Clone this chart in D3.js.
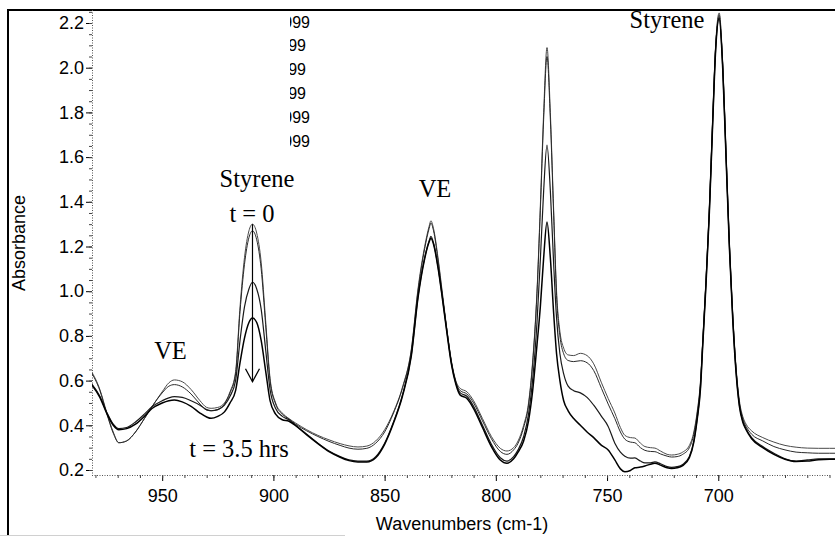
<!DOCTYPE html>
<html>
<head>
<meta charset="utf-8">
<script src="https://cdn.jsdelivr.net/npm/d3@7"></script>
<style>
  html, body { margin: 0; padding: 0; background: #fff; }
  svg { display: block; }
  .sans { font-family: "Liberation Sans", Arial, sans-serif; }
  .serif { font-family: "Liberation Serif", "Times New Roman", serif; }
</style>
</head>
<body>
<svg id="chart" width="835" height="537"></svg>
<script>
// Wavenumber grid (cm-1), shared by all spectra
const wavenumbers = [
  982, 978, 975, 972, 969.5, 966, 962, 958, 954.6, 950, 947, 944.5, 941, 937, 933, 930, 928, 925,
  922, 919.5, 917, 915, 913, 911, 909.4, 907.5, 905.5, 903.5, 901.5, 899, 896, 893,
  890, 885, 880, 875, 870, 866, 862, 858, 854, 850, 846, 842, 838, 835, 832, 830, 829.2, 828, 826, 824, 822, 820, 818, 816, 813, 810, 806, 802, 798, 795,
  792, 790, 787.5, 785.3, 783.5, 781.5, 780, 778.5, 777, 775.5, 774, 772.7, 771.2, 769.5, 767.5, 765, 762, 759, 756, 752.5, 749.5, 746.5, 744, 742, 739.5, 737.5, 735, 733, 730.5, 728.5, 726, 723, 721, 718.5, 716, 713, 711, 709.5, 708, 707, 705.5, 704, 702.5, 701.2, 699.6, 698, 696.5, 695, 693.5, 692, 690.5, 689, 687.5, 685, 680, 675, 670, 665, 660, 655, 650, 647
];

// Absorbance spectra during cure, t = 0 through t = 3.5 hrs
const absorbanceT0 = [
  0.645, 0.56, 0.46, 0.37, 0.322, 0.33, 0.37, 0.43, 0.483, 0.55, 0.59, 0.603, 0.595, 0.56, 0.51, 0.48, 0.476, 0.48,
  0.50, 0.55, 0.64, 0.93, 1.15, 1.27, 1.30, 1.26, 1.13, 0.87, 0.61, 0.50, 0.455, 0.43,
  0.41, 0.38, 0.355, 0.335, 0.318, 0.308, 0.303, 0.307, 0.33, 0.38, 0.46, 0.57, 0.74, 1.01, 1.20, 1.29, 1.315, 1.28, 1.15, 0.99, 0.83, 0.69, 0.60, 0.565, 0.55, 0.51, 0.43, 0.35, 0.297, 0.285,
  0.30, 0.33, 0.40, 0.50, 0.68, 1.00, 1.38, 1.80, 2.09, 1.80, 1.36, 1.00, 0.82, 0.745, 0.715, 0.712, 0.722, 0.712, 0.675, 0.59, 0.52, 0.455, 0.39, 0.355, 0.345, 0.343, 0.32, 0.305, 0.30, 0.298, 0.285, 0.27, 0.267, 0.27, 0.28, 0.31, 0.37, 0.46, 0.60, 0.78, 1.06, 1.38, 1.78, 2.10, 2.245, 2.02, 1.62, 1.22, 0.90, 0.66, 0.51, 0.44, 0.405, 0.375, 0.345, 0.325, 0.31, 0.302, 0.298, 0.297, 0.297, 0.297
];
const absorbanceT1 = [
  0.64, 0.555, 0.455, 0.365, 0.322, 0.33, 0.37, 0.43, 0.483, 0.545, 0.575, 0.582, 0.572, 0.54, 0.495, 0.468, 0.465, 0.47,
  0.495, 0.545, 0.63, 0.91, 1.12, 1.24, 1.27, 1.23, 1.10, 0.85, 0.60, 0.495, 0.45, 0.428,
  0.405, 0.375, 0.35, 0.328, 0.31, 0.298, 0.293, 0.297, 0.32, 0.37, 0.455, 0.565, 0.735, 1.0, 1.19, 1.28, 1.305, 1.27, 1.14, 0.98, 0.825, 0.685, 0.595, 0.555, 0.54, 0.50, 0.42, 0.34, 0.283, 0.27,
  0.29, 0.32, 0.39, 0.49, 0.67, 0.99, 1.36, 1.77, 2.05, 1.77, 1.34, 0.98, 0.80, 0.72, 0.69, 0.685, 0.689, 0.68, 0.645, 0.565, 0.495, 0.43, 0.37, 0.338, 0.325, 0.322, 0.30, 0.288, 0.283, 0.282, 0.272, 0.262, 0.258, 0.26, 0.27, 0.30, 0.36, 0.45, 0.59, 0.77, 1.05, 1.37, 1.77, 2.09, 2.235, 2.01, 1.61, 1.21, 0.89, 0.65, 0.50, 0.43, 0.395, 0.36, 0.33, 0.305, 0.29, 0.28, 0.277, 0.275, 0.275, 0.275
];
const absorbanceT2 = [
  0.59, 0.53, 0.46, 0.405, 0.385, 0.39, 0.415, 0.45, 0.483, 0.51, 0.523, 0.528, 0.525, 0.51, 0.49, 0.47, 0.465, 0.47,
  0.49, 0.53, 0.60, 0.78, 0.93, 1.01, 1.04, 1.01, 0.92, 0.74, 0.56, 0.475, 0.44, 0.425,
  0.40, 0.36, 0.32, 0.285, 0.26, 0.245, 0.24, 0.24, 0.26, 0.32, 0.415, 0.535, 0.715, 0.975, 1.15, 1.225, 1.245, 1.215, 1.11, 0.97, 0.82, 0.68, 0.59, 0.545, 0.53, 0.485, 0.40, 0.315, 0.255, 0.24,
  0.26, 0.29, 0.35, 0.45, 0.60, 0.86, 1.14, 1.45, 1.654, 1.45, 1.12, 0.88, 0.72, 0.63, 0.575, 0.555, 0.545, 0.525, 0.49, 0.44, 0.395, 0.32, 0.28, 0.262, 0.253, 0.254, 0.24, 0.232, 0.232, 0.236, 0.228, 0.215, 0.212, 0.215, 0.225, 0.26, 0.33, 0.43, 0.57, 0.76, 1.04, 1.36, 1.76, 2.08, 2.225, 2.0, 1.60, 1.20, 0.88, 0.64, 0.49, 0.42, 0.385, 0.345, 0.305, 0.275, 0.25, 0.24, 0.245, 0.25, 0.25, 0.25
];
const absorbanceT35 = [
  0.585, 0.525, 0.455, 0.40, 0.38, 0.385, 0.405, 0.44, 0.475, 0.50, 0.51, 0.513, 0.505, 0.485, 0.455, 0.437, 0.431, 0.44,
  0.46, 0.50, 0.555, 0.68, 0.79, 0.86, 0.88, 0.86, 0.78, 0.645, 0.51, 0.45, 0.425, 0.418,
  0.398, 0.357, 0.318, 0.282, 0.257, 0.242, 0.236, 0.236, 0.255, 0.315, 0.41, 0.53, 0.71, 0.97, 1.145, 1.22, 1.237, 1.21, 1.105, 0.965, 0.815, 0.675, 0.585, 0.535, 0.52, 0.475, 0.39, 0.305, 0.245, 0.23,
  0.25, 0.28, 0.33, 0.42, 0.55, 0.76, 0.93, 1.15, 1.31, 1.15, 0.90, 0.72, 0.60, 0.51, 0.465, 0.43, 0.40, 0.37, 0.345, 0.31, 0.29, 0.245, 0.205, 0.192, 0.198, 0.21, 0.213, 0.218, 0.226, 0.23, 0.222, 0.21, 0.207, 0.21, 0.22, 0.255, 0.325, 0.425, 0.565, 0.755, 1.035, 1.355, 1.755, 2.075, 2.22, 1.995, 1.595, 1.195, 0.875, 0.635, 0.485, 0.415, 0.38, 0.34, 0.30, 0.27, 0.248, 0.238, 0.24, 0.246, 0.248, 0.248
];

const yTickValues = [0.2, 0.4, 0.6, 0.8, 1.0, 1.2, 1.4, 1.6, 1.8, 2.0, 2.2];
const xTickValues = [950, 900, 850, 800, 750, 700];
const legendLabels = ["1999", "1999", "1999", "1999", "1999", "1999"];

// ---- layout ----
const svg = d3.select("#chart");
const plotLeft = 92, plotRight = 835, plotTop = 10, plotBottom = 475;

const x = d3.scaleLinear().domain([982, 650]).range([91, 829.5]);
const y = d3.scaleLinear().domain([0.2, 2.2]).range([470, 23]);

// outer frame
svg.append("line").attr("x1", 8).attr("x2", 835).attr("y1", 10).attr("y2", 10)
  .attr("stroke", "#000").attr("stroke-width", 2);
svg.append("line").attr("x1", 8).attr("x2", 8).attr("y1", 9).attr("y2", 536)
  .attr("stroke", "#000").attr("stroke-width", 2);
svg.append("line").attr("x1", 0).attr("x2", 345).attr("y1", 535.5).attr("y2", 535.5)
  .attr("stroke", "#d0d0d0").attr("stroke-width", 1);

// clip regions
const defs = svg.append("defs");
defs.append("clipPath").attr("id", "plotClip").append("rect")
  .attr("x", plotLeft).attr("y", plotTop).attr("width", plotRight - plotLeft).attr("height", plotBottom - plotTop);
defs.append("clipPath").attr("id", "legendClip").append("rect")
  .attr("x", 290).attr("y", 11).attr("width", 40).attr("height", 145);

// y axis: major ticks with labels, minor ticks, dotted spine
const yAxis = svg.append("g").attr("class", "sans").attr("transform", `translate(${plotLeft},0)`)
  .call(d3.axisLeft(y).tickValues(yTickValues).tickFormat(d3.format(".1f")).tickSize(6).tickPadding(2));
yAxis.select(".domain").remove();
yAxis.selectAll("text").attr("font-size", 18).attr("fill", "#000");
yAxis.selectAll("line").attr("stroke", "#000");

const yMinor = svg.append("g").attr("transform", `translate(${plotLeft},0)`)
  .call(d3.axisLeft(y).tickValues(d3.range(0.2, 2.26, 0.05)).tickFormat("").tickSize(3));
yMinor.select(".domain").remove();
yMinor.selectAll("line").attr("stroke", "#444");

svg.append("line").attr("x1", plotLeft + 0.5).attr("x2", plotLeft + 0.5).attr("y1", plotTop).attr("y2", plotBottom)
  .attr("stroke", "#555").attr("stroke-dasharray", "1 1.5");

// x axis
const xAxis = svg.append("g").attr("class", "sans").attr("transform", `translate(0,${plotBottom})`)
  .call(d3.axisBottom(x).tickValues(xTickValues).tickFormat(d3.format("d")).tickSize(6).tickPadding(8));
xAxis.select(".domain").remove();
xAxis.selectAll("text").attr("font-size", 18).attr("fill", "#000");
xAxis.selectAll("line").attr("stroke", "#000");

const xMinor = svg.append("g").attr("transform", `translate(0,${plotBottom})`)
  .call(d3.axisBottom(x).tickValues(d3.range(650, 981, 10)).tickFormat("").tickSize(3));
xMinor.select(".domain").remove();
xMinor.selectAll("line").attr("stroke", "#444");

svg.append("line").attr("x1", plotLeft).attr("x2", 830).attr("y1", plotBottom + 0.5).attr("y2", plotBottom + 0.5)
  .attr("stroke", "#555").attr("stroke-dasharray", "1 1.5");

// axis titles
svg.append("text").attr("class", "sans").attr("font-size", 18)
  .attr("text-anchor", "middle").attr("x", 462).attr("y", 530).text("Wavenumbers (cm-1)");
svg.append("text").attr("class", "sans").attr("font-size", 18)
  .attr("text-anchor", "middle").attr("transform", "translate(25,243) rotate(-90)").text("Absorbance");

// spectra
const series = [
  { values: absorbanceT0, stroke: "#4a4a4a", width: 1.0 },
  { values: absorbanceT1, stroke: "#2a2a2a", width: 1.0 },
  { values: absorbanceT2, stroke: "#1a1a1a", width: 1.2 },
  { values: absorbanceT35, stroke: "#000", width: 1.5 }
];
const line = d3.line().x(d => x(d[0])).y(d => y(d[1])).curve(d3.curveMonotoneX);
const lines = svg.append("g").attr("clip-path", "url(#plotClip)");
series.forEach(s => {
  lines.append("path")
    .datum(d3.zip(wavenumbers, s.values))
    .attr("fill", "none").attr("stroke", s.stroke).attr("stroke-width", s.width)
    .attr("stroke-linejoin", "round").attr("d", line);
});

// clipped legend entries
const legend = svg.append("g").attr("class", "sans").attr("clip-path", "url(#legendClip)");
const legendEnds = [310, 306, 306, 306, 310, 310];
legendLabels.forEach((t, i) => {
  legend.append("text").attr("font-size", 16).attr("text-anchor", "end")
    .attr("x", legendEnds[i]).attr("y", 22 + i * 23.8).attr("dy", "0.35em").text(t);
});

// annotations
const ann = svg.append("g").attr("class", "serif").attr("font-size", 24.5).attr("fill", "#000")
  .attr("text-anchor", "middle");
ann.append("text").attr("x", 257).attr("y", 187).text("Styrene");
ann.append("text").attr("x", 252).attr("y", 222).text("t = 0");
ann.append("text").attr("x", 239).attr("y", 457).text("t = 3.5 hrs");
ann.append("text").attr("x", 170.5).attr("y", 359).text("VE");
ann.append("text").attr("x", 435).attr("y", 197).text("VE");
ann.append("text").attr("x", 667).attr("y", 28).text("Styrene");

// arrow along the 909 cm-1 band, from t = 0 down past t = 3.5 hrs
const ax = x(909.4), aTop = y(1.30), aBot = y(0.595);
svg.append("line").attr("x1", ax).attr("x2", ax).attr("y1", aTop).attr("y2", aBot)
  .attr("stroke", "#000").attr("stroke-width", 1.2);
svg.append("path").attr("d", `M${ax - 7},${aBot - 13}L${ax},${aBot}L${ax + 7},${aBot - 13}`)
  .attr("fill", "none").attr("stroke", "#000").attr("stroke-width", 1.3);
</script>
</body>
</html>
